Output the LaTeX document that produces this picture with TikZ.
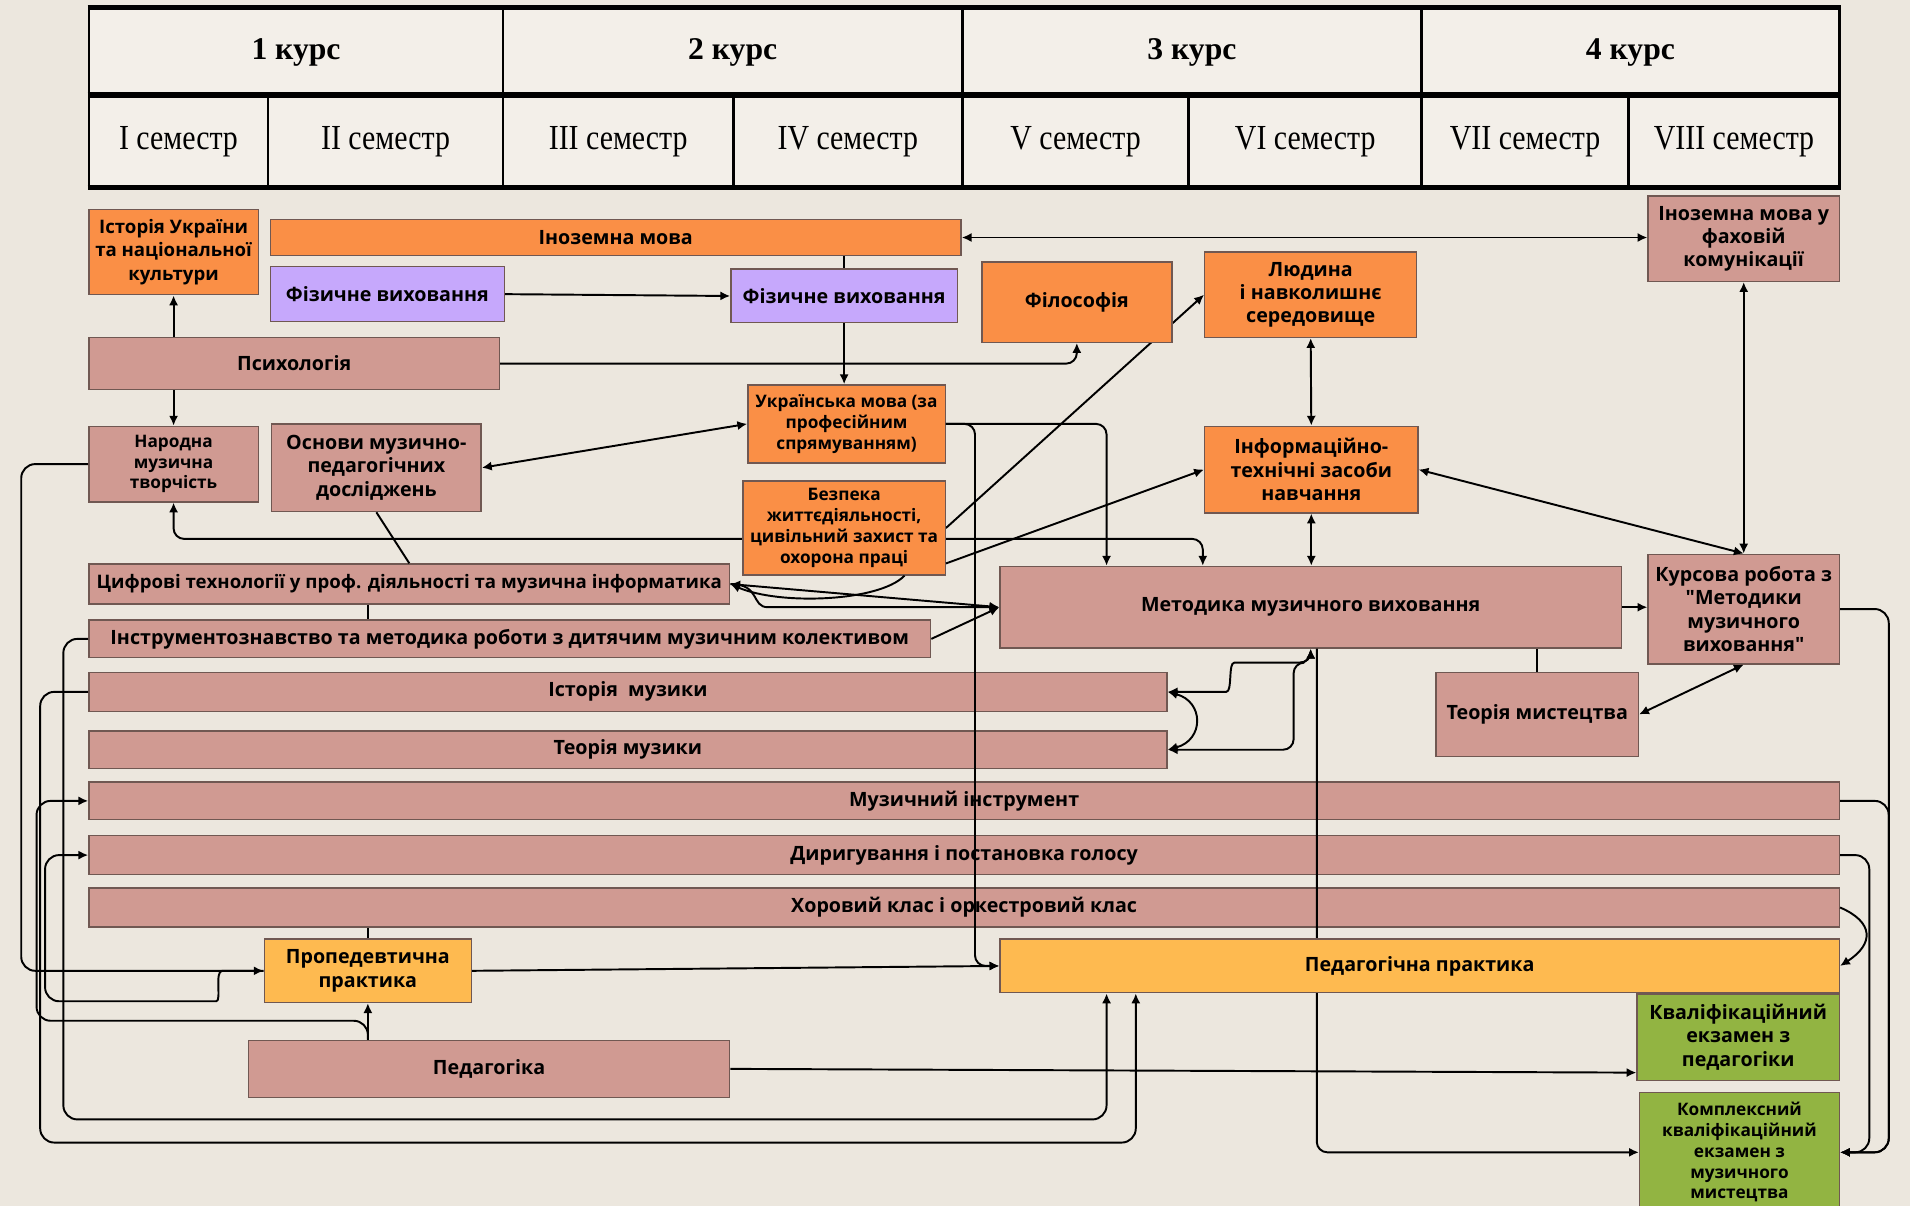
\documentclass[tikz,border=0pt]{standalone}
\usepackage{fontspec}
\setmainfont{Liberation Serif}
\newfontfamily\boxfont{Open Sans}
\newfontfamily\semfont[FakeStretch=0.85]{Liberation Serif}
\usepackage{tikz}
\usetikzlibrary{arrows.meta,calc}

\definecolor{bgcol}{RGB}{236,231,222}
\definecolor{headcol}{RGB}{243,239,233}
\definecolor{orangecol}{RGB}{250,143,70}
\definecolor{rosecol}{RGB}{208,154,146}
\definecolor{lilaccol}{RGB}{198,168,252}
\definecolor{yellowcol}{RGB}{254,186,80}
\definecolor{greencol}{RGB}{146,180,66}
\definecolor{edgecol}{RGB}{112,88,82}

\pgfdeclarelayer{bg}
\pgfdeclarelayer{back}
\pgfdeclarelayer{front}
\pgfsetlayers{bg,back,main,front}

\tikzset{
  sz/.style 2 args={minimum width=#1*0.01218cm, minimum height=#2*0.01218cm},
  subj/.style={draw=edgecol, line width=0.4pt, inner sep=0pt, align=center,
    font=\boxfont\bfseries\fontsize{5.6}{6.6}\selectfont},
  orangebox/.style={subj, fill=orangecol},
  rosebox/.style={subj, fill=rosecol},
  lilacbox/.style={subj, fill=lilaccol},
  yellowbox/.style={subj, fill=yellowcol},
  greenbox/.style={subj, fill=greencol},
  smalltext/.style={font=\boxfont\bfseries\fontsize{4.9}{5.9}\selectfont},
  tighttext/.style={font=\boxfont\bfseries\fontsize{5.3}{6.6}\selectfont},
  coursecell/.style={draw=black, line width=0.8pt, fill=headcol, inner sep=0pt,
    font=\bfseries\fontsize{9}{10}\selectfont},
  semcell/.style={draw=black, line width=0.8pt, fill=headcol, inner sep=0pt,
    font=\semfont\fontsize{10}{11}\selectfont},
  every path/.append style={line width=0.55pt},
  >={Latex[length=2.8pt,width=2.6pt]}
}

\begin{document}
\begin{tikzpicture}[x=0.01218cm, y=-0.01218cm]
      \useasboundingbox (0,0) rectangle (1568,990);
      \begin{pgfonlayer}{bg}
      \fill[bgcol] (0,0) rectangle (1568,990);
      \end{pgfonlayer}

      % курси і семестри
      \node[coursecell, sz={340}{72}] (c1) at (243,43) {1 курс};
      \node[coursecell, sz={377}{72}] (c2) at (601.5,43) {2 курс};
      \node[coursecell, sz={377}{72}] (c3) at (978.5,43) {3 курс};
      \node[coursecell, sz={343}{72}] (c4) at (1338.5,43) {4 курс};

      \node[semcell, sz={147}{74}] (s1) at (146.5,116) {I семестр};
      \node[semcell, sz={193}{74}] (s2) at (316.5,116) {II семестр};
      \node[semcell, sz={189}{74}] (s3) at (507.5,116) {III семестр};
      \node[semcell, sz={188}{74}] (s4) at (696,116) {IV семестр};
      \node[semcell, sz={186}{74}] (s5) at (883,116) {V семестр};
      \node[semcell, sz={191}{74}] (s6) at (1071.5,116) {VI семестр};
      \node[semcell, sz={170}{74}] (s7) at (1252,116) {VII семестр};
      \node[semcell, sz={173}{74}] (s8) at (1423.5,116) {VIII семестр};
      \draw[line width=1.4pt] (c1.north west) -- (c4.north east);
      \draw[line width=1.4pt] (s1.north west) -- (s8.north east);
      \draw[line width=1.4pt] (s1.south west) -- (s8.south east);

      % дисципліни
      \node[orangebox, tighttext, sz={139}{70}] (hist) at (142.5,207) {Історія України\\та національної\\культури};
      \node[orangebox, sz={567}{30}] (lang) at (505.5,195) {Іноземна мова};
      \node[lilacbox, sz={192}{45}] (pe1) at (318,241.5) {Фізичне виховання};
      \node[lilacbox, sz={186}{44}] (pe2) at (693,243) {Фізичне виховання};
      \node[orangebox, sz={156}{66}] (phil) at (884,248) {Філософія};
      \node[orangebox, sz={174}{70}] (human) at (1076,242) {Людина\\і навколишнє\\середовище};
      \node[rosebox, sz={157}{70}] (langpro) at (1431.5,196) {Іноземна мова у\\фаховій\\комунікації};

      \node[rosebox, sz={337}{43}] (psych) at (241.5,298.5) {Психологія};
      \node[orangebox, smalltext, sz={162}{64}] (ukr) at (695,348) {Українська мова (за\\професійним\\спрямуванням)};
      \node[rosebox, smalltext, sz={139}{62}] (folk) at (142.5,381) {Народна\\музична\\творчість};
      \node[rosebox, sz={172}{72}] (basics) at (309,384) {Основи музично-\\педагогічних\\досліджень};
      \node[orangebox, smalltext, sz={166}{77}] (safety) at (693,433.5) {Безпека\\життєдіяльності,\\цивільний захист та\\охорона праці};
      \node[orangebox, sz={175}{71}] (ict) at (1076.5,385.5) {Інформаційно-\\технічні засоби\\навчання};

      \node[rosebox, tighttext, sz={526}{33}] (digit) at (336,479.5) {Цифрові технології у проф. діяльності та музична інформатика};
      \node[rosebox, sz={510}{67}] (method) at (1076,498.5) {Методика музичного виховання};
      \node[rosebox, sz={157}{90}] (course) at (1431.5,500) {Курсова робота з\\"Методики\\музичного\\виховання"};
      \node[rosebox, sz={691}{31}] (instr) at (418.5,524.5) {Інструментознавство та методика роботи з дитячим музичним колективом};
      \node[rosebox, sz={885}{32}] (mhist) at (515.5,568) {Історія\ \ музики};
      \node[rosebox, sz={166}{69}] (arttheory) at (1262,586.5) {Теорія мистецтва};
      \node[rosebox, sz={885}{31}] (mtheory) at (515.5,615.5) {Теорія музики};
      \node[rosebox, sz={1437}{31}] (instrument) at (791.5,657.5) {Музичний інструмент};
      \node[rosebox, sz={1437}{32}] (conduct) at (791.5,702) {Диригування і постановка голосу};
      \node[rosebox, sz={1437}{32}] (choir) at (791.5,745) {Хоровий клас і оркестровий клас};

      \node[yellowbox, sz={170}{52}] (proped) at (302,797) {Пропедевтична\\практика};
      \begin{pgfonlayer}{front}
      \node[yellowbox, sz={689}{44}] (pract) at (1165.5,793) {Педагогічна практика};
      \end{pgfonlayer}
      \node[rosebox, sz={395}{47}] (ped) at (401.5,877.5) {Педагогіка};
      \node[greenbox, sz={166}{71}] (exped) at (1427,851.5) {Кваліфікаційний\\екзамен з\\педагогіки};
      \node[greenbox, smalltext, sz={164}{98}] (excomp) at (1428,946) {Комплексний\\кваліфікаційний\\екзамен з\\музичного\\мистецтва};

      % зв'язки
      \draw[->] (hist.south |- psych.north) -- (hist.south);
      \draw[->] (folk.north |- psych.south) -- (folk.north);
      \draw[->] (pe1.east) -- (pe2.west);
      \draw[<->] (lang.east) -- (lang.east -| langpro.west);
      \draw (pe2.north |- lang.south) -- (pe2.north);
      \draw[->] (pe2.south) -- (pe2.south |- ukr.north);
      \draw[->, rounded corners=3pt] (psych.east) -| (phil.south);
      \draw[<->] (basics.east) -- (ukr.west);
      \draw (basics.south) -- (digit.north);
      \draw[->, rounded corners=3pt] (ukr.east) -| ($(method.north west)+(88,0)$);
      \draw[->, rounded corners=3pt] (ukr.east) -| ($(pract.west)+(-20,0)$) -- (pract.west);
      \begin{pgfonlayer}{back}
      \draw[<->, rounded corners=3pt] (folk.south) |- ($(method.north west)+(167,-22)$) -- ($(method.north west)+(167,0)$);
      \draw[->] (safety.east) -- (human.west);
      \end{pgfonlayer}
      \draw[->] ($(safety.south east)+(0,-10)$) -- (ict.west);
      \draw[<->] (human.south) -- (ict.north);
      \draw[<->] (ict.south) -- (method.north -| ict.south);
      \draw[<->] (ict.east) -- (course.north);
      \draw[<->] (langpro.south) -- (course.north);
      \draw[->] (method.east) -- (method.east -| course.west);
      \draw (arttheory.north) -- (arttheory.north |- method.south);
      \draw[<->] (arttheory.east) -- (course.south);

      \draw[<->] (digit.east) -- (method.west);
      \draw[->] ($(safety.south east)+(-34,0)$) .. controls (722,494) and (640,497) .. (digit.east);
      \draw[->] (digit.east) .. controls +(25,0) and +(-14,0) .. ($(method.west)+(-190,0)$) -- (method.west);
      \draw[->] (instr.east) -- (method.west);

      \draw[<->, rounded corners=3pt] (mhist.east) -- (998,568) .. controls (1012,568) and (1008,544) .. (1022,544) -- (1076,544) -- (method.south);
      \draw[<->, rounded corners=3pt] (mtheory.east) -| (1062,544) -| (method.south);
      \draw[<->] (mhist.east) .. controls +(30,8) and +(30,-8) .. (mtheory.east);
      \draw[->, rounded corners=3pt] ($(method.south)+(5,0)$) |- (excomp.west);

      \draw[->, rounded corners=4pt] (course.east) -| ($(excomp.east)+(40,0)$) -- (excomp.east);
      \draw[->, rounded corners=4pt] (instrument.east) -| ($(excomp.east)+(40,0)$) -- (excomp.east);
      \draw[->, rounded corners=4pt] (conduct.east) -| ($(excomp.east)+(24,0)$) -- (excomp.east);
      \draw[->] (choir.east) .. controls +(28,12) and +(28,-18) .. (pract.east);

      \draw[->, rounded corners=4pt] (folk.west) -| ($(proped.west)+(-199,0)$) -- (proped.west);
      \draw[->, rounded corners=4pt] (mhist.west) -| (33,938) -| ($(pract.south west)+(112,0)$);
      \draw[->, rounded corners=4pt] (instr.west) -| (52,919) -| ($(pract.south west)+(88,0)$);
      \draw[->, rounded corners=4pt] (proped.south |- ped.north) |- (30,838) |- (instrument.west);
      \draw[<-, rounded corners=4pt] (conduct.west) -| (37,822) -- (166,822) .. controls (182,822) and (176,797) .. (194,797) -- (proped.west);

      \draw[->] (proped.south |- ped.north) -- (proped.south);
      \draw[->] (ped.east) -- ($(exped.south west)+(0,-7)$);
      \draw[->] (proped.east) -- (pract.west);
      \draw (proped.north) -- (proped.north |- choir.south);
      \draw (proped.north |- digit.south) -- (proped.north |- instr.north);
\end{tikzpicture}
\end{document}
